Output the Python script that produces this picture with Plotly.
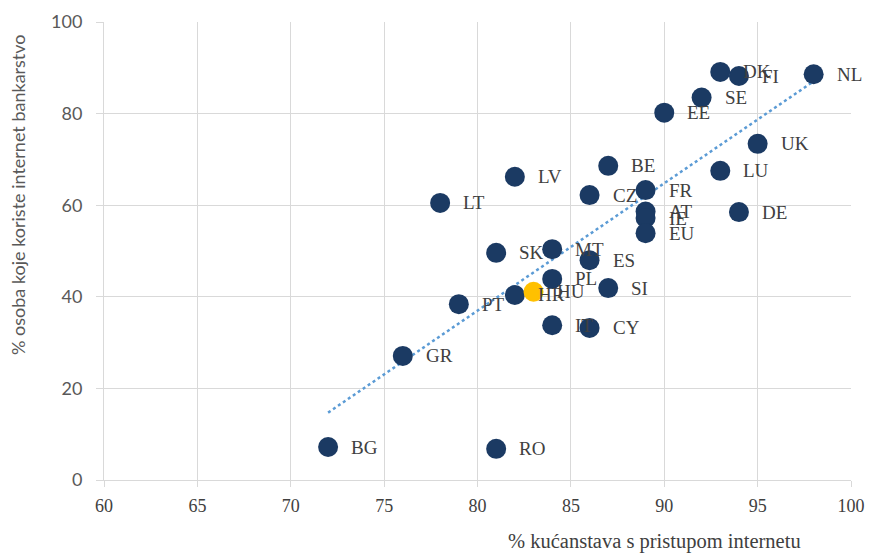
import numpy as np
import plotly.graph_objects as go

countries = ["NL", "FI", "DK", "SE", "EE", "UK", "LU", "DE", "BE", "LV", "CZ", "FR",
             "AT", "IE", "EU", "LT", "SK", "MT", "ES", "PL", "SI", "HR", "HU", "PT",
             "IT", "CY", "GR", "BG", "RO"]
households = [98, 94, 93, 92, 90, 95, 93, 94, 87, 82, 86, 89,
              89, 89, 89, 78, 81, 84, 86, 84, 87, 82, 83, 79,
              84, 86, 76, 72, 81]
banking = [88.6, 88.2, 89.1, 83.5, 80.2, 73.4, 67.5, 58.5, 68.6, 66.2, 62.2, 63.3,
           58.6, 57.2, 53.9, 60.5, 49.6, 50.4, 48.0, 43.9, 41.9, 40.4, 41.1, 38.4,
           33.8, 33.2, 27.1, 7.2, 6.8]
highlight = "HU"

x_ticks = [60, 65, 70, 75, 80, 85, 90, 95, 100]
y_ticks = [0, 20, 40, 60, 80, 100]
x_title = "% kućanstava s pristupom internetu"
y_title = "% osoba koje koriste internet bankarstvo"

navy = "#1b3a63"
yellow = "#ffc000"
colors = [yellow if c == highlight else navy for c in countries]

hx = np.array(households, dtype=float)
by = np.array(banking, dtype=float)
slope, intercept = np.polyfit(hx, by, 1)
tx = np.array([hx.min(), hx.max()])
ty = slope * tx + intercept

fig = go.Figure()
fig.add_trace(go.Scatter(x=tx, y=ty, mode="lines",
                         line=dict(color="#5b9bd5", width=2.5, dash="dot"),
                         hoverinfo="skip", showlegend=False))
fig.add_trace(go.Scatter(x=households, y=banking, mode="markers",
                         marker=dict(size=20, color=colors),
                         text=countries, showlegend=False))

serif = "Liberation Serif, DejaVu Serif, serif"
for c, x, y in zip(countries, households, banking):
    fig.add_annotation(x=x, y=y, text=c, showarrow=False, xanchor="left",
                       yanchor="middle", xshift=21,
                       font=dict(family=serif, size=19, color="#404040"))

fig.add_annotation(xref="x domain", yref="y domain",
                   x=(654 - 104) / 747, y=(480 - 541) / 458,
                   text=x_title, showarrow=False,
                   xanchor="center", yanchor="middle",
                   font=dict(family=serif, size=20.5, color="#404040"))
fig.add_annotation(xref="x domain", yref="y domain", x=(18 - 104) / 747,
                   y=(480 - 195) / 458, text=y_title, textangle=-90,
                   showarrow=False, xanchor="center", yanchor="middle",
                   font=dict(family="Lato, sans-serif", size=18, color="#595959"))

fig.update_layout(
    width=869, height=554,
    margin=dict(l=104, r=18, t=22, b=74, autoexpand=False),
    paper_bgcolor="white", plot_bgcolor="white",
    xaxis=dict(range=[60, 100], tickvals=x_ticks, showgrid=True,
               gridcolor="#d9d9d9", gridwidth=1, showline=True,
               linecolor="#d9d9d9", linewidth=1, ticks="outside",
               ticklen=6, tickcolor="#d9d9d9", zeroline=False, automargin=False,
               ticklabelstandoff=3,
               tickfont=dict(family=serif, size=18, color="#404040")),
    yaxis=dict(range=[0, 100], tickvals=y_ticks, showgrid=True,
               gridcolor="#d9d9d9", gridwidth=1, showline=True,
               linecolor="#d9d9d9", linewidth=1, ticks="outside",
               ticklen=7, tickcolor="#d9d9d9", zeroline=False, automargin=False,
               ticklabelstandoff=10,
               tickfont=dict(family="Lato, sans-serif", size=18, color="#595959")),
)

fig.write_html("out.html", config={"displayModeBar": False},
               post_script="document.body.style.margin='0';document.body.style.overflow='hidden';")
